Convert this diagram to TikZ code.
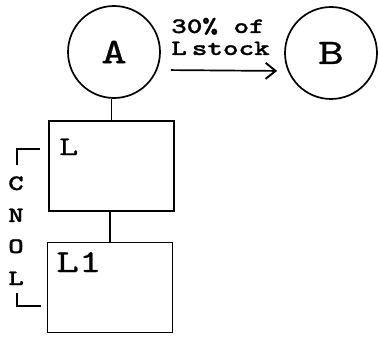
\documentclass[tikz,border=0pt]{standalone}
\usepackage{fontspec}
\usetikzlibrary{positioning,arrows.meta}
\newfontfamily\cour[FakeStretch=1.35,FakeBold=0.8]{lmmono10-regular.otf}
\newfontfamily\courbf[FakeStretch=1.35,FakeBold=1]{lmmonolt10-bold.otf}
\tikzset{
    sector/.style={draw, circle, line width=1.7pt, minimum size=92pt, inner sep=0pt, font=\fontsize{36}{36}\cour},
    stock/.style={draw, rectangle, line width=1.7pt, minimum width=125pt, minimum height=90pt, inner sep=0pt},
    stockname/.style={anchor=base west, inner sep=0pt},
    flowlabel/.style={anchor=base west, inner sep=0pt, font=\fontsize{22}{23}\courbf},
    flow/.style={line width=1.7pt, -{Straight Barb[length=10pt,width=16pt,line width=1.9pt]}},
    link/.style={line width=1.7pt},
    letter/.style={anchor=base, inner sep=0pt, font=\fontsize{22}{22}\courbf},
    brace/.style={line width=1.6pt}
}
\begin{document}
\begin{tikzpicture}[x=1pt,y=-1pt]
    \useasboundingbox (0,0) rectangle (378,337);
    % sectors
    \node[sector] (A) at (114,52) {A};
    \node[sector] (B) at (331,53) {B};
    % stocks
    \node[stock] (L) at (111.5,166) {};
    \node[stock] (L1) at (110,287.5) {};
    \node[stockname, font=\fontsize{27}{27}\cour] (Lname) at (59,155) {L};
    \node[stockname, font=\fontsize{32}{32}\cour] (L1name) at (56,272) {L1};
    \draw[link] (L.north) -- (L.north |- A.south);
    \draw[link] (L1.north) -- (L1.north |- L.south);
    % flow A -> B
    \draw[flow, shorten <=10pt, shorten >=7pt] ([yshift=-18pt]A.east) -- ([yshift=-18pt]B.west);
    \node[flowlabel] (share) at (171,33) {30\% of};
    \node[flowlabel] (sharestock) at (171,55) {L\hspace{5pt}stock};
    % CNOL bracket
    \draw[brace] (17,165) -- (17,149) -- (40,149);
    \node[letter] (cnolC) at (16,190) {C};
    \node[letter] (cnolN) at (16,222) {N};
    \node[letter] (cnolO) at (16,253) {O};
    \node[letter] (cnolL) at (16,285) {L};
    \draw[brace] (17,293) -- (17,306) -- (41,306);
\end{tikzpicture}
\end{document}
